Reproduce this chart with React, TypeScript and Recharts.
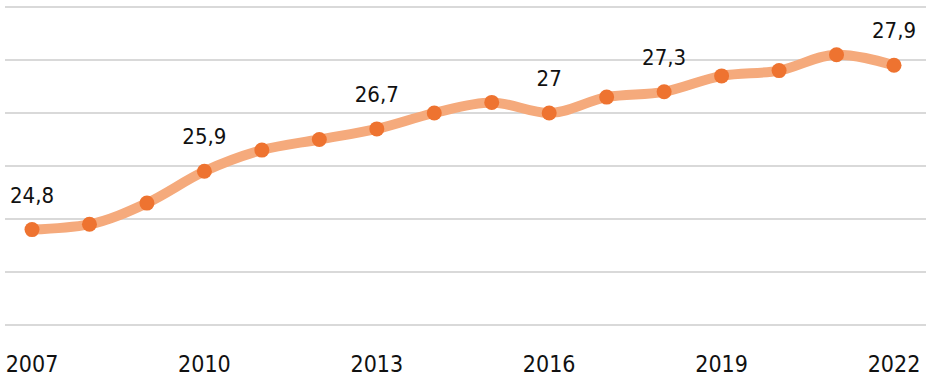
import { CartesianGrid, LabelList, Line, LineChart, ReferenceLine, XAxis, YAxis } from 'recharts';

const years = [
  '2007', '2008', '2009', '2010', '2011', '2012', '2013', '2014',
  '2015', '2016', '2017', '2018', '2019', '2020', '2021', '2022',
];
const values = [
  24.8, 24.9, 25.3, 25.9, 26.3, 26.5, 26.7, 27.0,
  27.2, 27.0, 27.3, 27.4, 27.7, 27.8, 28.1, 27.9,
];
// only a few points carry a printed value
const pointLabels = [
  '24,8', '', '', '25,9', '', '', '26,7', '', '',
  '27', '', '27,3', '', '', '', '27,9',
];
const yTicks = [23, 24, 25, 26, 27, 28, 29];

const data = years.map((year, i) => ({ year, value: values[i], label: pointLabels[i] }));

const FONT = '"DejaVu Sans Condensed", "Liberation Sans", sans-serif';

const PointLabel = (props: any) => {
  const { x, y, index } = props;
  const text = pointLabels[index];
  if (!text) return null;
  return (
    <text x={x} y={y - 27} textAnchor="middle" fontSize={22} fill="#111" fontFamily={FONT}>
      {text}
    </text>
  );
};

export default function App() {
  return (
    <div style={{ position: 'absolute', left: 0, top: 0 }}>
      <LineChart
        width={931}
        height={382}
        data={data}
        margin={{ top: 7, right: 5, left: 5, bottom: 0 }}
      >
        <CartesianGrid vertical={false} stroke="#d9d9d9" strokeWidth={2} />
        <ReferenceLine y={29} stroke="#d9d9d9" strokeWidth={2} ifOverflow="visible" />
        <XAxis
          dataKey="year"
          axisLine={false}
          tickLine={false}
          tickSize={0}
          tickMargin={31}
          height={57}
          interval={2}
          padding={{ left: 27, right: 32 }}
          tick={{ fontSize: 23, fill: '#111', fontFamily: FONT }}
        />
        <YAxis hide domain={[23, 29]} ticks={yTicks} />
        <Line
          type="monotone"
          dataKey="value"
          stroke="#F5AA7C"
          strokeWidth={10}
          dot={{ r: 7.5, fill: '#EE7330', stroke: 'none' }}
          activeDot={false}
          isAnimationActive={false}
        >
          <LabelList dataKey="label" content={PointLabel} />
        </Line>
      </LineChart>
    </div>
  );
}
